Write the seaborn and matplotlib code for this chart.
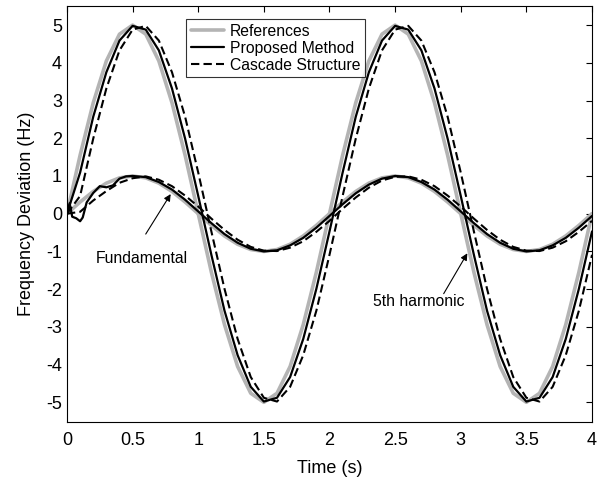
import matplotlib
matplotlib.use('Agg')
import matplotlib.pyplot as plt
import seaborn as sns

# Tiempo (s)
t = [0.0, 0.1, 0.2, 0.3, 0.4, 0.5, 0.6, 0.7, 0.8, 0.9,
     1.0, 1.1, 1.2, 1.3, 1.4, 1.5, 1.6, 1.7, 1.8, 1.9,
     2.0, 2.1, 2.2, 2.3, 2.4, 2.5, 2.6, 2.7, 2.8, 2.9,
     3.0, 3.1, 3.2, 3.3, 3.4, 3.5, 3.6, 3.7, 3.8, 3.9, 4.0]

# Referencias
ref_5th = [0.0, 1.55, 2.94, 4.05, 4.76, 5.0, 4.76, 4.05, 2.94, 1.55,
           0.0, -1.55, -2.94, -4.05, -4.76, -5.0, -4.76, -4.05, -2.94, -1.55,
           0.0, 1.55, 2.94, 4.05, 4.76, 5.0, 4.76, 4.05, 2.94, 1.55,
           0.0, -1.55, -2.94, -4.05, -4.76, -5.0, -4.76, -4.05, -2.94, -1.55, 0.0]
ref_fund = [0.0, 0.31, 0.59, 0.81, 0.95, 1.0, 0.95, 0.81, 0.59, 0.31,
            0.0, -0.31, -0.59, -0.81, -0.95, -1.0, -0.95, -0.81, -0.59, -0.31,
            0.0, 0.31, 0.59, 0.81, 0.95, 1.0, 0.95, 0.81, 0.59, 0.31,
            0.0, -0.31, -0.59, -0.81, -0.95, -1.0, -0.95, -0.81, -0.59, -0.31, 0.0]

# Metodo propuesto
prop_5th = [0.0, 1.09, 2.57, 3.75, 4.59, 4.98, 4.88, 4.33, 3.32, 1.99,
            0.47, -1.09, -2.57, -3.75, -4.59, -4.98, -4.88, -4.33, -3.32, -1.99,
            -0.47, 1.09, 2.57, 3.75, 4.59, 4.98, 4.88, 4.33, 3.32, 1.99,
            0.47, -1.09, -2.57, -3.75, -4.59, -4.98, -4.88, -4.33, -3.32, -1.99, -0.47]
t_prop_fund = [0.0, 0.02, 0.04, 0.07, 0.1, 0.12, 0.15, 0.2, 0.25, 0.3, 0.35, 0.4, 0.45,
               0.5, 0.6, 0.7, 0.8, 0.9,
               1.0, 1.1, 1.2, 1.3, 1.4, 1.5, 1.6, 1.7, 1.8, 1.9,
               2.0, 2.1, 2.2, 2.3, 2.4, 2.5, 2.6, 2.7, 2.8, 2.9,
               3.0, 3.1, 3.2, 3.3, 3.4, 3.5, 3.6, 3.7, 3.8, 3.9, 4.0]
prop_fund = [0.0, 0.28, -0.08, -0.12, -0.2, -0.1, 0.3, 0.55, 0.73, 0.7, 0.75, 0.93, 0.99,
             1.0, 0.97, 0.84, 0.64, 0.37,
             0.06, -0.25, -0.54, -0.77, -0.93, -1.0, -0.97, -0.84, -0.64, -0.37,
             -0.06, 0.25, 0.54, 0.77, 0.93, 1.0, 0.97, 0.84, 0.64, 0.37,
             0.06, -0.25, -0.54, -0.77, -0.93, -1.0, -0.97, -0.84, -0.64, -0.37, -0.06]

# Estructura en cascada
casc_5th = [0.0, 0.47, 1.99, 3.32, 4.33, 4.88, 4.98, 4.59, 3.75, 2.57,
            1.09, -0.47, -1.99, -3.32, -4.33, -4.88, -4.98, -4.59, -3.75, -2.57,
            -1.09, 0.47, 1.99, 3.32, 4.33, 4.88, 4.98, 4.59, 3.75, 2.57,
            1.09, -0.47, -1.99, -3.32, -4.33, -4.88, -4.98, -4.59, -3.75, -2.57, -1.09]
casc_fund = [0.0, 0.05, 0.35, 0.6, 0.82, 0.94, 0.99, 0.9, 0.73, 0.48,
             0.19, -0.13, -0.43, -0.69, -0.88, -0.98, -0.99, -0.9, -0.73, -0.48,
             -0.19, 0.13, 0.43, 0.69, 0.88, 0.98, 0.99, 0.9, 0.73, 0.48,
             0.19, -0.13, -0.43, -0.69, -0.88, -0.98, -0.99, -0.9, -0.73, -0.48, -0.19]

sns.set_style('white')
plt.rcParams['font.family'] = ['Liberation Sans', 'DejaVu Sans']
plt.rcParams['axes.unicode_minus'] = False
plt.rcParams['text.color'] = 'black'
plt.rcParams['axes.labelcolor'] = 'black'

fig = plt.figure(figsize=(5.98, 4.8), dpi=100)
ax = fig.add_axes([0.112, 0.121, 0.878, 0.866])

gray = '#b4b4b4'
sns.lineplot(x=t, y=ref_5th, ax=ax, color=gray, lw=2.6, label='References')
sns.lineplot(x=t, y=ref_fund, ax=ax, color=gray, lw=2.6)
sns.lineplot(x=t, y=prop_5th, ax=ax, color='black', lw=1.6, label='Proposed Method')
sns.lineplot(x=t_prop_fund, y=prop_fund, ax=ax, color='black', lw=1.6)
sns.lineplot(x=t, y=casc_5th, ax=ax, color='black', lw=1.5, ls=(0, (4, 2)),
             label='Cascade Structure')
sns.lineplot(x=t, y=casc_fund, ax=ax, color='black', lw=1.5, ls=(0, (4, 2)))

ax.set_xlim(0, 4)
ax.set_ylim(-5.52, 5.5)
ax.set_xticks([0, 0.5, 1, 1.5, 2, 2.5, 3, 3.5, 4])
ax.set_xticklabels(['0', '0.5', '1', '1.5', '2', '2.5', '3', '3.5', '4'])
ax.set_yticks([-5, -4, -3, -2, -1, 0, 1, 2, 3, 4, 5])
ax.tick_params(direction='in', top=True, right=True, length=4, width=0.8,
               labelsize=13, colors='black')
ax.tick_params(axis='x', pad=7)
for s in ax.spines.values():
    s.set_color('black')
    s.set_linewidth(0.8)
ax.set_xlabel('Time (s)', fontsize=13, labelpad=8)
ax.set_ylabel('Frequency Deviation (Hz)', fontsize=13, labelpad=8)

leg = ax.legend(loc='upper left', bbox_to_anchor=(0.227, 0.969), fontsize=11.3,
                frameon=True, fancybox=False, edgecolor='black', handlelength=2.1,
                borderpad=0.3, labelspacing=0.12, handletextpad=0.4,
                borderaxespad=0)
leg.get_frame().set_linewidth(0.8)
for txt in leg.get_texts():
    txt.set_color('black')

arrow = dict(arrowstyle='-|>', color='black', lw=0.8, shrinkA=0, shrinkB=0,
             mutation_scale=10)
ax.text(0.57, -1.18, 'Fundamental', fontsize=11.3, ha='center', va='center',
        color='black')
ax.annotate('', xy=(0.79, 0.52), xytext=(0.60, -0.54), arrowprops=arrow)
ax.text(2.68, -2.32, '5th harmonic', fontsize=11.3, ha='center', va='center',
        color='black')
ax.annotate('', xy=(3.05, -1.05), xytext=(2.87, -2.12), arrowprops=arrow)

fig.savefig('out.png', dpi=100)
